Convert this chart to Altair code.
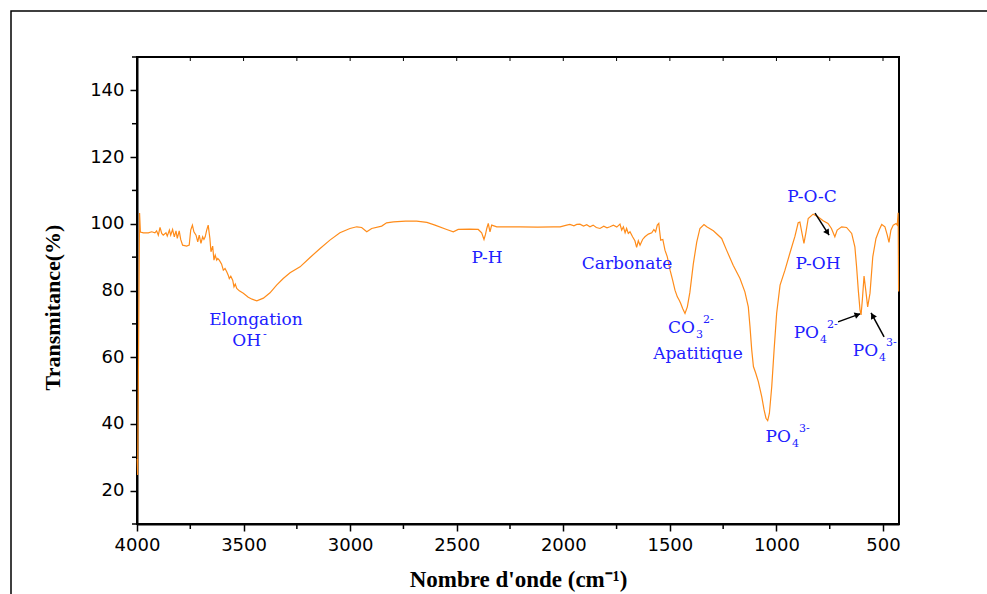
import math
import altair as alt
import pandas as pd

# FTIR spectrum: wavenumber (cm-1) and transmittance (%)
wavenumber = [
    3999, 3997, 3988, 3984, 3970, 3947, 3931, 3916, 3908, 3900, 3892, 3884, 3877,
    3864, 3858, 3848, 3842, 3833, 3825, 3817, 3811, 3802, 3795, 3786, 3767, 3755,
    3748, 3740, 3733, 3723, 3715, 3708, 3700, 3692, 3686, 3680, 3673, 3666, 3658,
    3653, 3645, 3639, 3633, 3626, 3621, 3614, 3603, 3595, 3587, 3579, 3572, 3567,
    3560, 3551, 3545, 3539, 3532, 3520, 3501, 3478, 3460, 3438, 3407, 3376, 3345,
    3314, 3282, 3235, 3188, 3141, 3095, 3048, 3001, 2969, 2946, 2922, 2899, 2852,
    2829, 2797, 2740, 2688, 2640, 2602, 2547, 2516, 2493, 2440, 2399, 2383, 2372,
    2365, 2359, 2352, 2344, 2336, 2312, 2250, 2203, 2120, 2047, 2015, 1984, 1969,
    1950, 1937, 1922, 1905, 1890, 1875, 1860, 1845, 1828, 1810, 1795, 1781, 1765,
    1749, 1734, 1726, 1718, 1710, 1703, 1695, 1687, 1675, 1664, 1656, 1648, 1640,
    1628, 1617, 1601, 1585, 1575, 1567, 1559, 1552, 1549, 1543, 1533, 1523, 1512,
    1499, 1487, 1476, 1465, 1456, 1449, 1440, 1429, 1418, 1406, 1390, 1374, 1359,
    1340, 1327, 1296, 1257, 1234, 1203, 1171, 1148, 1132, 1124, 1116, 1108, 1097,
    1085, 1069, 1058, 1049, 1041, 1033, 1022, 1011, 999, 983, 960, 936, 913, 898,
    890, 882, 871, 862, 851, 828, 805, 781, 758, 742, 726, 715, 694, 671, 647, 632,
    624, 616, 608, 603, 597, 589, 581, 572, 561, 548, 533, 517, 506, 491, 480, 472,
    463, 452, 439, 433, 429, 427,
]
transmittance = [
    29.5, 24.7, 103.2, 97.5, 97.3, 97.3, 97.6, 97.3, 97.9, 96.6, 98.9, 97.1, 96.6,
    97.3, 96.3, 98.1, 96.6, 98.3, 96.1, 97.9, 95.6, 97.9, 95.3, 93.6, 93.3, 93.6,
    98.1, 99.6, 97.6, 96.6, 94.6, 96.6, 94.1, 96.1, 95.3, 96.1, 98.1, 99.6, 95.6,
    91.6, 93.3, 89.1, 90.6, 89.1, 89.6, 89.1, 87.9, 86.1, 86.6, 85.6, 84.6, 83.6,
    84.3, 83.1, 81.1, 81.9, 80.6, 79.9, 79.2, 78.0, 77.4, 76.9, 77.7, 79.3, 81.6,
    83.6, 85.3, 87.1, 89.9, 92.6, 95.1, 97.3, 98.6, 99.1, 98.9, 97.6, 98.6, 99.3,
    100.3, 100.6, 100.8, 100.8, 100.4, 99.6, 98.3, 97.6, 98.3, 98.4, 98.3, 97.3, 95.3,
    96.8, 98.6, 100.1, 97.6, 99.6, 99.1, 99.1, 99.1, 99.0, 99.1, 99.1, 99.6, 99.8,
    99.4, 99.8, 99.9, 99.3, 99.7, 99.1, 99.6, 98.9, 98.6, 99.3, 98.8, 99.1, 99.6,
    99.0, 99.9, 98.1, 99.1, 97.3, 98.6, 97.1, 97.6, 96.1, 94.9, 92.9, 94.9, 93.6,
    95.3, 96.1, 96.9, 97.3, 98.3, 97.6, 99.6, 100.1, 98.3, 95.1, 95.3, 92.1, 90.1,
    86.1, 83.1, 80.1, 78.1, 77.1, 76.1, 74.6, 73.1, 75.1, 79.5, 88.0, 94.5, 98.6,
    99.8, 99.1, 97.9, 95.6, 92.1, 87.6, 83.6, 79.6, 75.1, 69.1, 62.2, 57.2, 55.2,
    52.7, 48.2, 44.2, 41.7, 41.0, 43.2, 51.2, 62.2, 73.2, 81.6, 86.1, 91.4, 96.3, 100.3,
    100.5, 97.8, 94.1, 97.3, 101.6, 102.9, 102.1, 100.9, 100.1, 98.6, 96.1, 98.1, 99.1, 98.9, 97.1, 93.1,
    87.1, 80.1, 74.2, 72.7, 77.1, 84.3, 80.1, 75.1, 79.2, 90.1, 95.6, 98.3, 99.8, 99.1, 96.6, 94.4,
    98.1, 99.6, 100.1, 99.6, 103.3, 79.7,
]

# Axis ticks: labelled (major) and unlabelled (minor)
x_major = [4000, 3500, 3000, 2500, 2000, 1500, 1000, 500]
x_minor = [3750, 3250, 2750, 2250, 1750, 1250, 750]
y_major = [20, 40, 60, 80, 100, 120, 140]
y_minor = [10, 30, 50, 70, 90, 110, 130, 150]

# Band assignments written as plain text
plain_text = ["Elongation", "P-H", "Carbonate", "Apatitique", "P-O-C", "P-OH"]
plain_wn = [3442, 2358, 1701, 1368, 833, 805]
plain_T = [71.2, 89.7, 87.9, 61.0, 108.0, 87.9]

# Ion labels: base text, subscript, superscript (anchored at the end of the base text)
ion_base = ["OH", "CO", "PO", "PO", "PO"]
ion_sub = ["", "3", "4", "4", "4"]
ion_sup = ["-", "2-", "3-", "2-", "3-"]
ion_wn = [3418, 1382, 932, 800, 523]
ion_T = [64.9, 68.8, 36.1, 67.3, 61.9]

# Arrows pointing at the bands (start -> tip)
arrow_wn0 = [819, 711, 495]
arrow_T0 = [103.2, 70.6, 66.1]
arrow_wn1 = [753, 608, 556]
arrow_T1 = [96.6, 73.0, 73.3]

X_DOMAIN = [425, 4000]
Y_DOMAIN = [10, 150]
W, H = 762, 467

ORANGE = "#ff8c1a"
BLUE = "#2020ff"

spectrum = pd.DataFrame({"wn": wavenumber, "T": transmittance})
plain = pd.DataFrame({"wn": plain_wn, "T": plain_T, "label": plain_text})
ions = pd.DataFrame({"wn": ion_wn, "T": ion_T, "base": ion_base, "sub": ion_sub, "sup": ion_sup})

# arrowhead orientation follows the on-screen direction of each arrow
px_wn = W / (X_DOMAIN[1] - X_DOMAIN[0])
px_T = H / (Y_DOMAIN[1] - Y_DOMAIN[0])
arrow_rows = []
for w0, t0, w1, t1 in zip(arrow_wn0, arrow_T0, arrow_wn1, arrow_T1):
    sdx = -(w1 - w0) * px_wn
    sdy = -(t1 - t0) * px_T
    ang = math.degrees(math.atan2(sdx, -sdy)) % 360
    arrow_rows.append({
        "wn0": w0, "T0": t0, "wn1": w1, "T1": t1,
        "hwn": w1 - 0.15 * (w1 - w0), "hT": t1 - 0.15 * (t1 - t0),
        "angle": ang,
    })
arrows = pd.DataFrame(arrow_rows)

x_scale = alt.Scale(domain=X_DOMAIN, reverse=True, nice=False, zero=False)
y_scale = alt.Scale(domain=Y_DOMAIN, nice=False, zero=False)

x_axis = alt.Axis(
    title="Nombre d'onde (cm\u207b\u00b9)",
    values=x_major,
    format="d",
    tickSize=7,
    labelPadding=5,
    labelFlush=False,
    labelOverlap=False,
    grid=False,
    titlePadding=14,
    titleFontSize=23,
)
y_axis = alt.Axis(
    title="Transmitance(%)",
    values=y_major,
    format="d",
    tickSize=7,
    labelPadding=6,
    labelFlush=False,
    labelOverlap=False,
    grid=False,
    titlePadding=25,
    titleFontSize=22,
    titleY=250,
)


def X(field):
    return alt.X(field, type="quantitative", scale=x_scale, axis=x_axis)


def Y(field):
    return alt.Y(field, type="quantitative", scale=y_scale, axis=y_axis)


line = alt.Chart(spectrum).mark_line(color=ORANGE, strokeWidth=1.2).encode(
    x=X("wn"), y=Y("T"),
)

# minor ticks on the bottom and left axes, small inward ticks along the top
x_minor_ticks = alt.Chart(pd.DataFrame({"wn": x_minor})).mark_rule(
    color="black", strokeWidth=1.5
).encode(x=X("wn"), y=alt.value(H), y2=alt.value(H + 5))
y_minor_ticks = alt.Chart(pd.DataFrame({"T": y_minor})).mark_rule(
    color="black", strokeWidth=1.5
).encode(y=Y("T"), x=alt.value(0), x2=alt.value(-5))
top_ticks = alt.Chart(pd.DataFrame({"wn": x_major + x_minor})).mark_rule(
    color="black", strokeWidth=1
).encode(x=X("wn"), y=alt.value(0), y2=alt.value(4))

text_style = dict(font="DejaVu Serif", color=BLUE)

plain_layer = alt.Chart(plain).mark_text(
    align="center", baseline="middle", fontSize=17, **text_style
).encode(x=X("wn"), y=Y("T"), text="label:N")

ion_main = alt.Chart(ions).mark_text(
    align="right", baseline="middle", fontSize=17, **text_style
).encode(x=X("wn"), y=Y("T"), text="base:N")

ion_sub_layer = alt.Chart(ions).transform_filter("datum.sub != ''").mark_text(
    align="left", baseline="middle", fontSize=11, dx=1, dy=7, **text_style
).encode(x=X("wn"), y=Y("T"), text="sub:N")

ion_sup_after_sub = alt.Chart(ions).transform_filter("datum.sub != ''").mark_text(
    align="left", baseline="middle", fontSize=11, dx=8, dy=-8, **text_style
).encode(x=X("wn"), y=Y("T"), text="sup:N")

ion_sup_direct = alt.Chart(ions).transform_filter("datum.sub == ''").mark_text(
    align="left", baseline="middle", fontSize=11, dx=2, dy=-6, **text_style
).encode(x=X("wn"), y=Y("T"), text="sup:N")

arrow_lines = alt.Chart(arrows).mark_rule(color="black", strokeWidth=1.5).encode(
    x=X("wn0"), x2="wn1:Q", y=Y("T0"), y2="T1:Q"
)
arrow_heads = alt.Chart(arrows).mark_point(
    shape="triangle", filled=True, size=45, color="black", opacity=1
).encode(
    x=X("hwn"), y=Y("hT"), angle=alt.Angle("angle:Q", scale=None),
)

# outer figure frame
frame = alt.Chart(pd.DataFrame({"k": [0]})).mark_rect(
    fillOpacity=0, stroke="black", strokeWidth=1.5
).encode(
    x=alt.value(-126), x2=alt.value(W + 200), y=alt.value(-46), y2=alt.value(H + 200)
)

chart = alt.layer(
    line, frame, x_minor_ticks, y_minor_ticks, top_ticks, arrow_lines, arrow_heads,
    plain_layer, ion_main, ion_sub_layer, ion_sup_after_sub, ion_sup_direct,
).properties(
    width=W,
    height=H,
    padding={"left": 137, "top": 57, "right": 88, "bottom": 70},
    autosize=alt.AutoSizeParams(type="none"),
    background="white",
).configure_view(
    stroke="black", strokeWidth=2
).configure_axis(
    domainColor="black", domainWidth=2, tickColor="black", tickWidth=1.5,
    labelFont="DejaVu Sans", labelFontSize=18, labelColor="black",
    titleFont="Liberation Serif", titleFontWeight="bold", titleColor="black",
)

chart.save("out.html", embed_options={"renderer": "svg", "actions": False})
